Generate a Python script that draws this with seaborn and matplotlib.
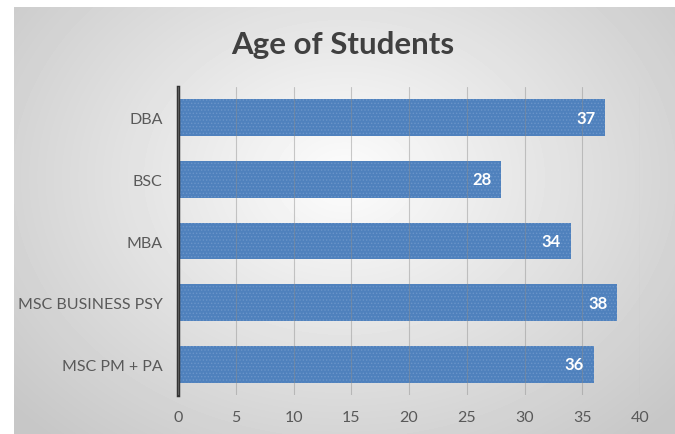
import numpy as np
import pandas as pd
import seaborn as sns
import matplotlib.pyplot as plt

# data
programmes = ['DBA', 'BSC', 'MBA', 'MSC BUSINESS PSY', 'MSC PM + PA']
ages = [37, 28, 34, 38, 36]
x_ticks = [0, 5, 10, 15, 20, 25, 30, 35, 40]

df = pd.DataFrame({'Programme': programmes, 'Age': ages})

sns.set_theme(style='white')
plt.rcParams['font.family'] = ['Lato', 'DejaVu Sans']
plt.rcParams['hatch.linewidth'] = 0.6

fig = plt.figure(figsize=(6.75, 4.35), dpi=100)

# radial grey gradient behind the chart, like the office chart frame
bg = fig.add_axes([14 / 675, 0, 661 / 675, 427 / 435], zorder=-10)
yy, xx = np.mgrid[0:427, 0:661]
r = np.sqrt(((xx - 330) / 420.0) ** 2 + ((yy - 170) / 330.0) ** 2)
shade = np.clip(0.99 - 0.2 * r, 0.78, 1.0)
bg.imshow(shade, cmap='gray', vmin=0, vmax=1, aspect='auto', interpolation='bilinear')
bg.axis('off')

ax = fig.add_axes([178 / 675, 1 - 396 / 435, 462 / 675, 308 / 435])
ax.patch.set_alpha(0)

sns.barplot(data=df, y='Programme', x='Age', orient='h', color='#4f81bd',
            width=0.6, ax=ax, saturation=1, zorder=2)
for p in ax.patches:
    p.set_hatch('.....')
    p.set_edgecolor('#6b95c9')
    p.set_linewidth(0)

for i, v in enumerate(ages):
    ax.annotate(str(v), (v, i), xytext=(-7, 0), textcoords='offset points',
                ha='right', va='center', color='white', fontsize=12,
                fontweight='bold', zorder=4)

ax.set_xlim(0, 40)
ax.set_xticks(x_ticks)
ax.set_xlabel('')
ax.set_ylabel('')
ax.grid(axis='x', color='#8c8c8c', linewidth=0.8, alpha=0.45, zorder=3)
ax.set_axisbelow(False)
for s in ['top', 'right', 'bottom']:
    ax.spines[s].set_visible(False)
ax.spines['left'].set_color('#333333')
ax.spines['left'].set_linewidth(2.5)
ax.tick_params(axis='both', length=0, labelsize=11.5, colors='#595959')
ax.tick_params(axis='y', pad=11)
ax.tick_params(axis='x', pad=11)

fig.text(343 / 675, 1 - 45 / 435, 'Age of Students', ha='center', va='center',
         fontsize=22.5, fontweight='bold', color='#404040')

fig.savefig('out.png', dpi=100)
